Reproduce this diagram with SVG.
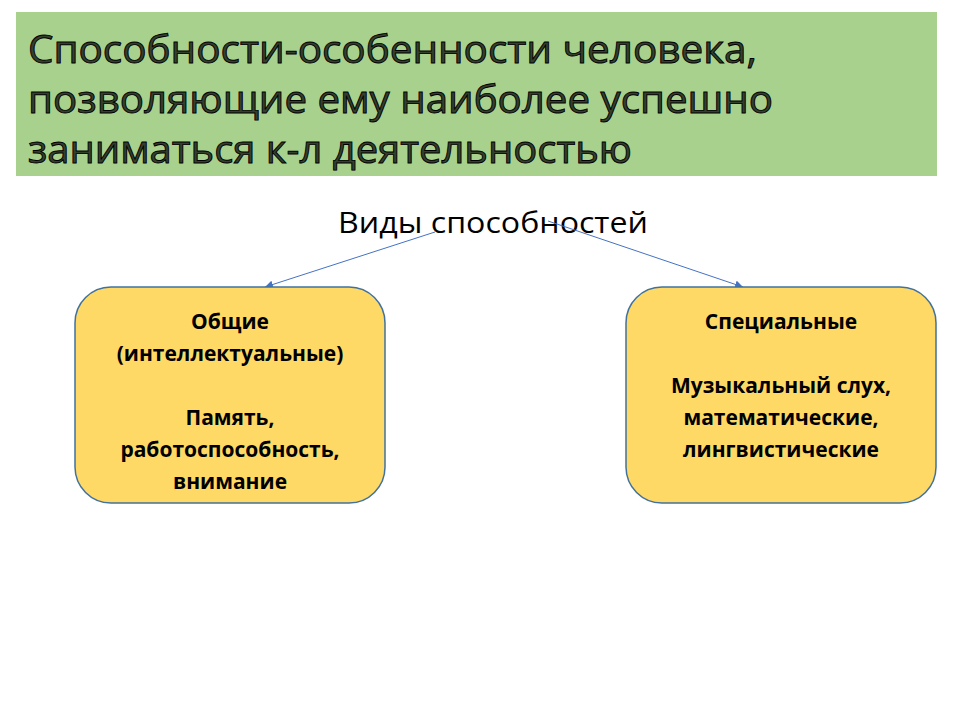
<svg xmlns="http://www.w3.org/2000/svg" width="960" height="720" viewBox="0 0 960 720">
  <defs>
    <style>
      .title { font-family: "Open Sans", "Liberation Sans", sans-serif; font-size: 38px; fill: #34402c; stroke: #000; stroke-width: 0.9; }
      .sub { font-family: "Open Sans", "Liberation Sans", sans-serif; font-size: 30px; fill: #000; }
      .box { fill: #FFD966; stroke: #41719C; stroke-width: 1.5; }
      .bt { font-family: "Open Sans", "Liberation Sans", sans-serif; font-size: 21px; font-weight: bold; fill: #000; text-anchor: middle; }
      .conn { stroke: #4472C4; stroke-width: 1; fill: none; marker-end: url(#arr); }
    </style>
    <marker id="arr" viewBox="0 0 10 10" refX="10" refY="5" markerWidth="8" markerHeight="8" markerUnits="userSpaceOnUse" orient="auto">
      <path d="M0,0 L10,5 L0,10 z" fill="#4472C4"/>
    </marker>
  </defs>
  <rect width="960" height="720" fill="#fff"/>
  <g id="title">
    <rect x="16" y="12" width="921" height="164" fill="#A9D18E"/>
    <text class="title" x="28" y="63" textLength="729" lengthAdjust="spacingAndGlyphs">Способности-особенности человека,</text>
    <text class="title" x="28" y="113" textLength="745" lengthAdjust="spacingAndGlyphs">позволяющие ему наиболее успешно</text>
    <text class="title" x="28" y="163" textLength="604" lengthAdjust="spacingAndGlyphs">заниматься к-л деятельностью</text>
  </g>
  <g id="root">
    <text class="sub" x="338" y="233" textLength="310" lengthAdjust="spacingAndGlyphs">Виды способностей</text>
  </g>
  <g id="connectors">
    <line class="conn" x1="435" y1="232" x2="265" y2="287"/>
    <line class="conn" x1="548" y1="221" x2="743" y2="287"/>
  </g>
  <g id="general">
    <rect class="box" x="75" y="287" width="310" height="216" rx="36" ry="36"/>
    <text class="bt" x="230" y="329">Общие</text>
    <text class="bt" x="230" y="361">(интеллектуальные)</text>
    <text class="bt" x="230" y="425">Память,</text>
    <text class="bt" x="230" y="457">работоспособность,</text>
    <text class="bt" x="230" y="489">внимание</text>
  </g>
  <g id="special">
    <rect class="box" x="626" y="287" width="310" height="216" rx="36" ry="36"/>
    <text class="bt" x="781" y="329">Специальные</text>
    <text class="bt" x="781" y="393">Музыкальный слух,</text>
    <text class="bt" x="781" y="425">математические,</text>
    <text class="bt" x="781" y="457">лингвистические</text>
  </g>
</svg>
